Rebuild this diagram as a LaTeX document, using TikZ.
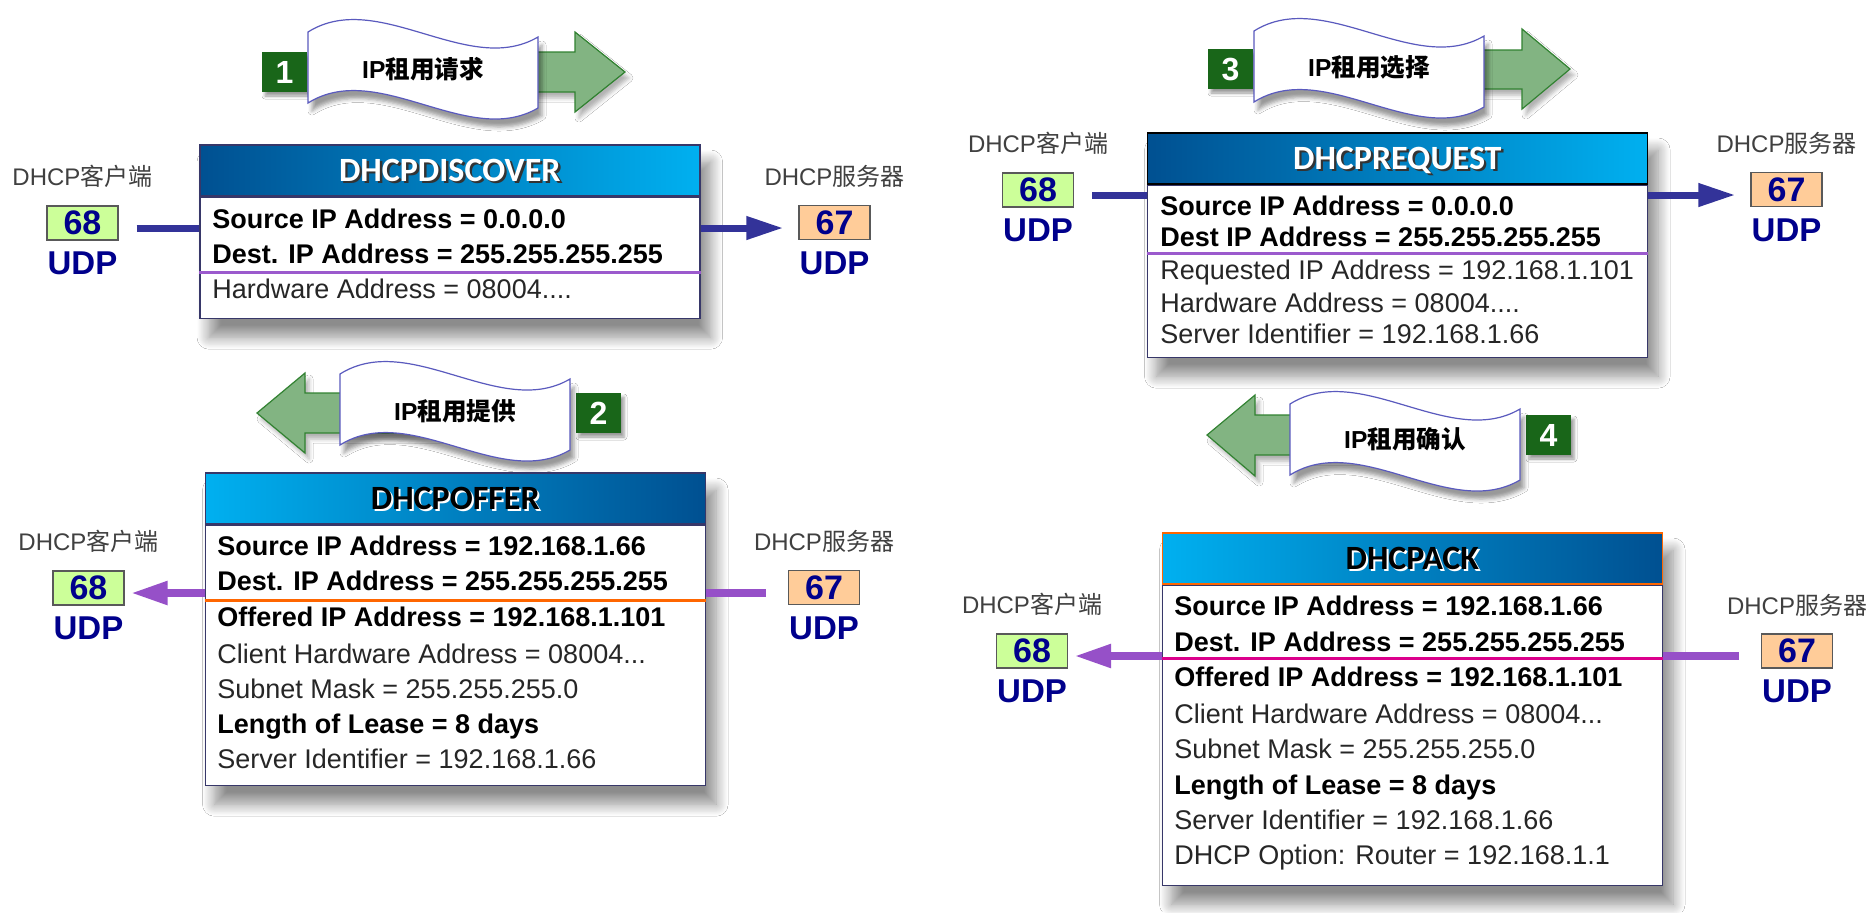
\documentclass[tikz,border=0pt]{standalone}
\usepackage{fontspec}
\setmainfont{Liberation Sans}
\newfontfamily\cjk{Noto Sans CJK SC}
\newfontfamily\hdfont{Carlito}
\usetikzlibrary{positioning,calc,arrows.meta,shadows.blur,backgrounds}

\definecolor{hdark}{RGB}{0,80,145}
\definecolor{hlight}{RGB}{0,176,240}
\definecolor{boxedge}{RGB}{55,55,105}
\definecolor{linknavy}{RGB}{51,51,153}
\definecolor{lilac}{RGB}{150,80,200}
\definecolor{sepviolet}{RGB}{155,90,205}
\definecolor{seporange}{RGB}{255,102,0}
\definecolor{sepmagenta}{RGB}{220,0,140}
\definecolor{portnavy}{RGB}{0,0,140}
\definecolor{clientfill}{RGB}{204,255,153}
\definecolor{serverfill}{RGB}{255,204,153}
\definecolor{stepgreen}{RGB}{25,102,25}
\definecolor{arrowgreen}{RGB}{130,180,130}
\definecolor{arrowedge}{RGB}{50,130,50}
\definecolor{bannerblue}{RGB}{90,90,190}
\definecolor{labelgray}{RGB}{64,64,64}

% Header titles with a small shadow.
\newcommand{\wtitle}[1]{\rlap{\color{black!80}\hspace{1.2pt}\raisebox{-1.2pt}{#1}}#1}
\newcommand{\btitle}[1]{\rlap{\color{white}\hspace{1pt}\raisebox{-1pt}{#1}}#1}

\tikzset{
  boxshadow/.style={fill=white, blur shadow={shadow xshift=5pt, shadow yshift=-9pt,
    shadow blur radius=6pt, shadow blur steps=14, shadow opacity=45}},
  headbar/.style={draw=boxedge, line width=0.8pt, minimum width=250pt, minimum height=25.5pt,
    inner sep=0pt, text depth=0pt, font=\hdfont\bfseries\fontsize{17}{17}\selectfont},
  bodybox/.style={draw=boxedge, line width=0.8pt, fill=white, minimum width=250pt, inner sep=0pt},
  boldline/.style={anchor=base west, inner sep=0pt, font=\bfseries\fontsize{13.5}{16}\selectfont},
  plainline/.style={anchor=base west, inner sep=0pt, text=black!85, font=\fontsize{13.5}{16}\selectfont},
  sepline/.style={line width=1.5pt},
  port/.style={draw=black!65, line width=0.6pt, minimum width=35.5pt, minimum height=17pt,
    inner sep=0pt, text=portnavy, font=\bfseries\fontsize{17}{17}\selectfont},
  udp/.style={inner sep=0pt, text=portnavy, font=\bfseries\fontsize{16.5}{16.5}\selectfont},
  hostlabel/.style={inner sep=0pt, text=labelgray, font=\fontsize{12}{12}\selectfont},
  navyline/.style={draw=linknavy, line width=3.5pt},
  navyarrow/.style={navyline, -{Triangle[length=18.5pt,width=11pt]}, shorten >=7.5pt},
  lilacline/.style={draw=lilac, line width=4pt},
  lilacarrow/.style={lilacline, -{Triangle[length=18.5pt,width=11pt]}},
  stepsq/.style={fill=stepgreen, minimum width=22.5pt, minimum height=20pt, inner sep=0pt,
    text=white, font=\bfseries\fontsize{16}{16}\selectfont,
    blur shadow={shadow xshift=1.5pt, shadow yshift=-2pt, shadow blur radius=1.5pt}},
  greenarrow/.style={fill=arrowgreen, draw=arrowedge, line width=0.6pt,
    blur shadow={shadow xshift=2pt, shadow yshift=-3pt, shadow blur radius=2pt, shadow opacity=30}},
  bannerline/.style={fill=white, draw=bannerblue, line width=0.6pt,
    blur shadow={shadow xshift=2pt, shadow yshift=-4pt, shadow blur radius=2pt, shadow opacity=40}},
  bannertext/.style={inner sep=0pt, font=\bfseries\fontsize{12.3}{12.3}\selectfont},
  banner/.pic={
    \path[bannerline] (0,9) .. controls (70,-35) and (160,55) .. (230,14) -- (230,85)
      .. controls (160,126) and (70,36) .. (0,80) -- cycle;
  }
}

\begin{document}
\begin{tikzpicture}[x=0.5pt, y=-0.5pt]
\useasboundingbox (0,0) rectangle (1866,912);

% Draw step arrows.
\draw[greenarrow] (440,52) -- (575,52) -- (575,32) -- (625,72) -- (575,112) -- (575,92) -- (440,92) -- cycle;
\draw[greenarrow] (450,393) -- (305,393) -- (305,373) -- (257,413) -- (305,453) -- (305,433) -- (450,433) -- cycle;
\draw[greenarrow] (1400,50) -- (1522,50) -- (1522,29) -- (1570,69) -- (1522,109) -- (1522,89) -- (1400,89) -- cycle;
\draw[greenarrow] (1400,415) -- (1255,415) -- (1255,395) -- (1207,435) -- (1255,476) -- (1255,455) -- (1400,455) -- cycle;

% Draw step numbers and banners.
\node[stepsq] (n1) at (284.5,72) {1};
\node[stepsq] (n2) at (598.5,413) {2};
\node[stepsq] (n3) at (1230.5,69) {3};
\node[stepsq] (n4) at (1548.5,435) {4};

\pic at (308,23) {banner};
\pic at (340,365) {banner};
\pic at (1254,22) {banner};
\pic at (1290,395) {banner};

\node[bannertext] (t1) at (423,69) {IP\cjk 租用请求};
\node[bannertext] (t2) at (455,411) {IP\cjk 租用提供};
\node[bannertext] (t3) at (1369,67) {IP\cjk 租用选择};
\node[bannertext] (t4) at (1405,439) {IP\cjk 租用确认};

% DHCPDISCOVER.
\node[headbar, anchor=north west, left color=hdark, right color=hlight, text=white] (h1) at (199,144) {\wtitle{DHCPDISCOVER}};
\node[bodybox, minimum height=60.5pt, below=0pt of h1] (b1) {};
\node[boldline] (dis1) at (212,228) {Source IP Address = 0.0.0.0};
\node[boldline] (dis2) at (212,263) {Dest. IP Address = 255.255.255.255};
\node[plainline] (dis3) at (212,298) {Hardware Address = 08004....};
\draw[sepline, sepviolet] (b1.west |- 0,272) -- (b1.east |- 0,272);

\node[port, fill=clientfill] (c1) at (82.5,223) {68};
\node[hostlabel, above=8.5pt of c1] (hc1) {DHCP{\cjk 客户端}};
\node[udp, below=5.5pt of c1] (uc1) {UDP};
\node[port, fill=serverfill] (s1) at (834.5,222.5) {67};
\node[hostlabel, above=8.5pt of s1] (hs1) {DHCP{\cjk 服务器}};
\node[udp, below=5.5pt of s1] (us1) {UDP};
\coordinate (j1) at ($(c1.east)+(0,5)$);
\draw[navyline, shorten <=9pt] (j1) -- (j1 -| b1.west);
\draw[navyarrow] (j1 -| b1.east) -- (j1 -| s1.west);

% DHCPOFFER.
\node[headbar, anchor=north west, left color=hlight, right color=hdark, text=black] (h2) at (204.5,472) {\btitle{DHCPOFFER}};
\node[bodybox, minimum height=130pt, below=0pt of h2] (b2) {};
\node[boldline] (off1) at (217,555) {Source IP Address = 192.168.1.66};
\node[boldline] (off2) at (217,590) {Dest. IP Address = 255.255.255.255};
\node[boldline] (off3) at (217,626) {Offered IP Address = 192.168.1.101};
\node[plainline] (off4) at (217,663) {Client Hardware Address = 08004...};
\node[plainline] (off5) at (217,698) {Subnet Mask = 255.255.255.0};
\node[boldline] (off6) at (217,733) {Length of Lease = 8 days};
\node[plainline] (off7) at (217,768) {Server Identifier = 192.168.1.66};
\draw[sepline, seporange] (b2.west |- 0,600) -- (b2.east |- 0,600);

\node[port, fill=clientfill] (c2) at (88.5,588) {68};
\node[hostlabel, above=8.5pt of c2] (hc2) {DHCP{\cjk 客户端}};
\node[udp, below=5.5pt of c2] (uc2) {UDP};
\node[port, fill=serverfill] (s2) at (824,587.5) {67};
\node[hostlabel, above=8.5pt of s2] (hs2) {DHCP{\cjk 服务器}};
\node[udp, below=5.5pt of s2] (us2) {UDP};
\coordinate (j2) at ($(c2.east)+(0,5)$);
\draw[lilacarrow, shorten >=3pt] (j2 -| b2.west) -- (j2);
\draw[lilacline, shorten <=11pt] (j2 -| s2.west) -- (j2 -| b2.east);

% DHCPREQUEST.
\node[headbar, draw=black, anchor=north west, left color=hdark, right color=hlight, text=white] (h3) at (1146.5,132) {\wtitle{DHCPREQUEST}};
\node[bodybox, minimum height=86pt, below=0pt of h3] (b3) {};
\node[boldline] (req1) at (1160,215) {Source IP Address = 0.0.0.0};
\node[boldline] (req2) at (1160,246) {Dest IP Address = 255.255.255.255};
\node[plainline] (req3) at (1160,279) {Requested IP Address = 192.168.1.101};
\node[plainline] (req4) at (1160,312) {Hardware Address = 08004....};
\node[plainline] (req5) at (1160,343) {Server Identifier = 192.168.1.66};
\draw[sepline, sepviolet] (b3.west |- 0,253) -- (b3.east |- 0,253);

\node[port, fill=clientfill] (c3) at (1038,190) {68};
\node[hostlabel, above=8.5pt of c3] (hc3) {DHCP{\cjk 客户端}};
\node[udp, below=5.5pt of c3] (uc3) {UDP};
\node[port, fill=serverfill] (s3) at (1786.5,189.5) {67};
\node[hostlabel, above=8.5pt of s3] (hs3) {DHCP{\cjk 服务器}};
\node[udp, below=5.5pt of s3] (us3) {UDP};
\coordinate (j3) at ($(c3.east)+(0,5)$);
\draw[navyline, shorten <=9pt] (j3) -- (j3 -| b3.west);
\draw[navyarrow] (j3 -| b3.east) -- (j3 -| s3.west);

% DHCPACK.
\node[headbar, draw=seporange, anchor=north west, left color=hlight, right color=hdark, text=black] (h4) at (1161.5,532) {\btitle{DHCPACK}};
\node[bodybox, minimum height=150pt, below=0pt of h4] (b4) {};
\node[boldline] (ack1) at (1174,615) {Source IP Address = 192.168.1.66};
\node[boldline] (ack2) at (1174,651) {Dest. IP Address = 255.255.255.255};
\node[boldline] (ack3) at (1174,686) {Offered IP Address = 192.168.1.101};
\node[plainline] (ack4) at (1174,723) {Client Hardware Address = 08004...};
\node[plainline] (ack5) at (1174,758) {Subnet Mask = 255.255.255.0};
\node[boldline] (ack6) at (1174,794) {Length of Lease = 8 days};
\node[plainline] (ack7) at (1174,829) {Server Identifier = 192.168.1.66};
\node[plainline] (ack8) at (1174,864) {DHCP Option: Router = 192.168.1.1};
\draw[sepline, sepmagenta] (b4.west |- 0,658) -- (b4.east |- 0,658);

\node[port, fill=clientfill] (c4) at (1032,651) {68};
\node[hostlabel, above=8.5pt of c4] (hc4) {DHCP{\cjk 客户端}};
\node[udp, below=5.5pt of c4] (uc4) {UDP};
\node[port, fill=serverfill] (s4) at (1797,651) {67};
\node[hostlabel, above=8.5pt of s4] (hs4) {DHCP{\cjk 服务器}};
\node[udp, below=5.5pt of s4] (us4) {UDP};
\coordinate (j4) at ($(c4.east)+(0,5)$);
\draw[lilacarrow, shorten >=3pt] (j4 -| b4.west) -- (j4);
\draw[lilacline, shorten <=11pt] (j4 -| s4.west) -- (j4 -| b4.east);

% Draw box shadows behind everything.
\begin{scope}[on background layer]
\fill[white] (0,0) rectangle (1866,912);
\path[boxshadow] (h1.north west) rectangle (b1.south east);
\path[boxshadow] (h2.north west) rectangle (b2.south east);
\path[boxshadow] (h3.north west) rectangle (b3.south east);
\path[boxshadow] (h4.north west) rectangle (b4.south east);
\end{scope}

\end{tikzpicture}
\end{document}
